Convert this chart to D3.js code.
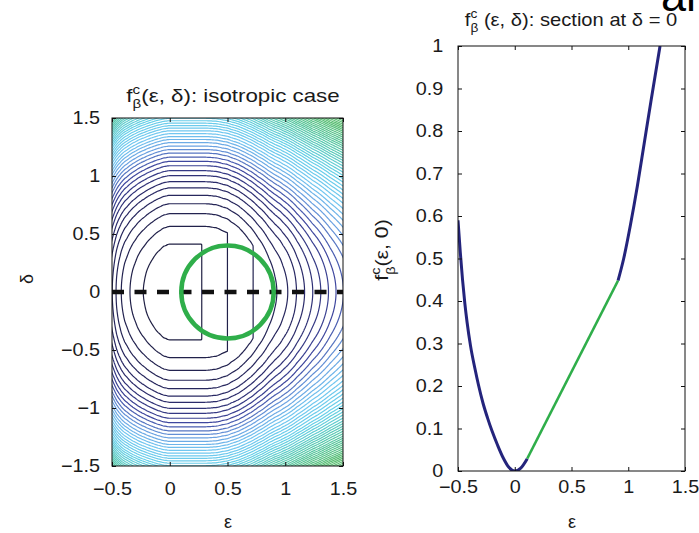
<!DOCTYPE html>
<html>
<head>
<meta charset="utf-8">
<script src="https://cdn.jsdelivr.net/npm/d3@7"></script>
<style>
  body { margin: 0; background: #fff; }
  text { font-family: "Liberation Sans", Arial, sans-serif; fill: #1a1a1a; }
</style>
</head>
<body>
<svg id="fig" width="699" height="533"></svg>
<script>
// ---- data ----

// section f(eps, 0), right panel: blue left branch, green linear part, blue right branch
var blueLeftEps = [-0.5, -0.48, -0.46, -0.44, -0.42, -0.39, -0.35, -0.32, -0.28, -0.24, -0.2, -0.15, -0.1, -0.05, 0, 0.05, 0.11];
var blueLeftF   = [0.59, 0.515, 0.45, 0.395, 0.35, 0.295, 0.24, 0.203, 0.16, 0.125, 0.094, 0.06, 0.03, 0.008, 0, 0.006, 0.029];
var greenEps = [0.11, 0.91];
var greenF   = [0.029, 0.448];
var blueRightEps = [0.91, 0.96, 1.02, 1.08, 1.14, 1.2, 1.28];
var blueRightF   = [0.448, 0.5, 0.58, 0.67, 0.77, 0.87, 1.0];

// contour field, left panel: level along delta = 0 outside the linear zone ...
var ridgeEps = [-0.6, -0.55, -0.5, -0.48, -0.46, -0.44, -0.42, -0.39, -0.35, -0.32, -0.28, -0.24, -0.2, -0.15, -0.1, -0.05, 0, 0.1, 0.2, 0.3, 0.4, 0.5, 0.6, 0.7, 0.8, 0.91, 0.96, 1.02, 1.08, 1.14, 1.2, 1.28, 1.4, 1.5, 1.6];
var ridgeF   = [1.0, 0.78, 0.59, 0.515, 0.45, 0.395, 0.35, 0.295, 0.24, 0.203, 0.16, 0.125, 0.094, 0.06, 0.032, 0.01, 0, 0, 0, 0, 0.008, 0.04, 0.1, 0.19, 0.305, 0.448, 0.5, 0.58, 0.67, 0.77, 0.87, 1.0, 1.21, 1.39, 1.58];
var spreadR = [0, 0.1, 0.2, 0.3, 0.4, 0.5, 0.6, 0.7, 0.8, 0.9, 1.0, 1.1, 1.2, 1.3, 1.4, 1.5, 1.6, 1.7, 1.8, 1.9, 2.0, 2.1, 2.2];
var spreadF = [0, 0.0063, 0.0255, 0.0587, 0.1077, 0.175, 0.264, 0.378, 0.523, 0.703, 0.925, 1.196, 1.522, 1.913, 2.378, 2.925, 3.566, 4.312, 5.174, 6.166, 7.3, 8.59, 10.05];
var levelStep = 0.1165;
var levelCount = 72;

// green circle (eps, delta, radius)
var circleEps = 0.5, circleDelta = 0, circleRadius = 0.4;

// ticks
var epsTicks = [-0.5, 0, 0.5, 1, 1.5];
var deltaTicks = [-1.5, -1, -0.5, 0, 0.5, 1, 1.5];
var sectionTicks = [0, 0.1, 0.2, 0.3, 0.4, 0.5, 0.6, 0.7, 0.8, 0.9, 1];

// ---- layout ----
var svg = d3.select("#fig");
var xL = d3.scaleLinear().domain([-0.5, 1.5]).range([112, 343]);
var yL = d3.scaleLinear().domain([-1.5, 1.5]).range([466, 118]);
var xR = d3.scaleLinear().domain([-0.5, 1.5]).range([458, 685]);
var yR = d3.scaleLinear().domain([0, 1]).range([471, 46]);
var navy = "#24247c", green = "#2fae4a";
var tickFmt = d3.format("~g");

svg.append("rect").attr("width", 699).attr("height", 533).attr("fill", "#fff");

var defs = svg.append("defs");
defs.append("clipPath").attr("id", "clipL").append("rect")
  .attr("x", 112).attr("y", 118).attr("width", 231).attr("height", 348);
defs.append("clipPath").attr("id", "clipR").append("rect")
  .attr("x", 458).attr("y", 46).attr("width", 227).attr("height", 425);

// ---- left panel: contours ----
// field = max(linear part, spread(distance)), distance built from the ridge level
var step = 0.01, e0 = -0.6, d0 = -1.6;
var nx = 221, ny = 321;
var ridge = d3.scaleLinear().domain(ridgeEps).range(ridgeF);
var spread = d3.scaleLinear().domain(spreadR).range(spreadF);
var linear = d3.scaleLinear().domain(greenEps).range(greenF);
var uOf = [];
for (var i = 0; i < nx; i++) {
  uOf.push(spread.invert(ridge(e0 + i * step)));
}
var values = new Float64Array(nx * ny);
for (var j = 0; j < ny; j++) {
  var d = d0 + j * step;
  for (i = 0; i < nx; i++) {
    var e = e0 + i * step, u = uOf[i];
    values[j * nx + i] = Math.max(linear(e), spread(Math.sqrt(u * u + d * d)));
  }
}
var levels = d3.range(1, levelCount + 1).map(function(k) { return k * levelStep; });
var contours = d3.contours().size([nx, ny]).thresholds(levels)(values);

var toPx = d3.geoTransform({
  point: function(px, py) {
    this.stream.point(xL(e0 + (px - 0.5) * step), yL(d0 + (py - 0.5) * step));
  }
});
var path = d3.geoPath(toPx);
var color = d3.scaleLinear()
  .domain([0, 0.8, 1.3, 1.7, 2.2, 3.0, 4.2, 5.5])
  .range(["#1e1e3e", "#2a2a68", "#4048a0", "#6a9ee0", "#72c6f0", "#66d0e8", "#58c8a8", "#5cbf74"])
  .clamp(true);

var gL = svg.append("g").attr("clip-path", "url(#clipL)");
gL.selectAll("path.iso")
  .data(contours)
  .enter().append("path")
  .attr("class", "iso")
  .attr("d", path)
  .attr("fill", "none")
  .attr("stroke", function(c) { return color(c.value); })
  .attr("stroke-width", 1.2);

// dashed section line at delta = 0
gL.append("line")
  .attr("x1", xL(-0.5)).attr("x2", xL(1.5))
  .attr("y1", yL(0)).attr("y2", yL(0))
  .attr("stroke", "#111")
  .attr("stroke-width", 4.5)
  .attr("stroke-dasharray", "12,10.5");

gL.append("ellipse")
  .attr("cx", xL(circleEps)).attr("cy", yL(circleDelta))
  .attr("rx", xL(circleEps + circleRadius) - xL(circleEps))
  .attr("ry", yL(circleDelta) - yL(circleDelta + circleRadius))
  .attr("fill", "none")
  .attr("stroke", green)
  .attr("stroke-width", 4.5);

// ---- right panel: section ----
var gR = svg.append("g").attr("clip-path", "url(#clipR)");
var curve = d3.line()
  .x(function(p) { return xR(p[0]); })
  .y(function(p) { return yR(p[1]); })
  .curve(d3.curveMonotoneX);

gR.append("path")
  .attr("d", curve(d3.zip(blueLeftEps, blueLeftF)))
  .attr("fill", "none").attr("stroke", navy).attr("stroke-width", 3);
gR.append("path")
  .attr("d", curve(d3.zip(blueRightEps, blueRightF)))
  .attr("fill", "none").attr("stroke", navy).attr("stroke-width", 3);
gR.append("path")
  .attr("d", d3.line().x(function(p) { return xR(p[0]); }).y(function(p) { return yR(p[1]); })(d3.zip(greenEps, greenF)))
  .attr("fill", "none").attr("stroke", green).attr("stroke-width", 2.5);

// ---- frames, ticks inside on all four sides ----
function drawFrame(x, y, xTicks, yTicks, xPad, yPad) {
  var x0 = x.range()[0], x1 = x.range()[1], y0 = y.range()[0], y1 = y.range()[1];
  var g = svg.append("g");
  g.append("g").attr("transform", "translate(0," + y0 + ")")
    .call(d3.axisBottom(x).tickValues(xTicks).tickFormat(tickFmt)
      .tickSizeInner(-4).tickSizeOuter(0).tickPadding(xPad));
  g.append("g").attr("transform", "translate(0," + y1 + ")")
    .call(d3.axisTop(x).tickValues(xTicks).tickFormat("").tickSizeInner(-4).tickSizeOuter(0));
  g.append("g").attr("transform", "translate(" + x0 + ",0)")
    .call(d3.axisLeft(y).tickValues(yTicks).tickFormat(tickFmt)
      .tickSizeInner(-4).tickSizeOuter(0).tickPadding(yPad));
  g.append("g").attr("transform", "translate(" + x1 + ",0)")
    .call(d3.axisRight(y).tickValues(yTicks).tickFormat("").tickSizeInner(-4).tickSizeOuter(0));
  g.selectAll(".domain").remove();
  g.selectAll(".tick line").attr("stroke", "#111");
  g.selectAll(".tick text")
    .attr("font-size", 18)
    .attr("font-family", "Liberation Sans, Arial, sans-serif")
    .attr("fill", "#1a1a1a")
    .attr("transform", "scale(1.1,1)");
  g.append("rect")
    .attr("x", x0).attr("y", y1)
    .attr("width", x1 - x0).attr("height", y0 - y1)
    .attr("fill", "none").attr("stroke", "#111").attr("stroke-width", 1);
}
drawFrame(xL, yL, epsTicks, deltaTicks, 16, 10.8);
drawFrame(xR, yR, epsTicks, sectionTicks, 9, 13.5);

// ---- texts ----
function fPart(t, rest, size) {
  t.append("tspan").text("f");
  t.append("tspan").attr("dy", -0.42 * size).attr("font-size", size * 0.68).text("c");
  t.append("tspan").attr("dx", -0.34 * size).attr("dy", 0.78 * size).attr("font-size", size * 0.68).text("β");
  t.append("tspan").attr("dy", -0.36 * size).text(rest);
}

var t1 = svg.append("text")
  .attr("transform", "translate(233,102) scale(1.24,1)")
  .attr("text-anchor", "middle").attr("font-size", 18);
fPart(t1, "(ε, δ): isotropic case", 18);

var t2 = svg.append("text")
  .attr("transform", "translate(571,26) scale(1.12,1)")
  .attr("text-anchor", "middle").attr("font-size", 18);
fPart(t2, " (ε, δ): section at δ = 0", 18);

var t3 = svg.append("text")
  .attr("transform", "translate(388,250) rotate(-90) scale(1.12,1)")
  .attr("text-anchor", "middle").attr("font-size", 19);
fPart(t3, "(ε, 0)", 19);

svg.append("text")
  .attr("transform", "translate(33,279) rotate(-90)")
  .attr("text-anchor", "middle").attr("font-size", 18)
  .text("δ");

svg.append("text")
  .attr("x", 228).attr("y", 528)
  .attr("text-anchor", "middle").attr("font-size", 18)
  .text("ε");
svg.append("text")
  .attr("x", 572).attr("y", 528)
  .attr("text-anchor", "middle").attr("font-size", 18)
  .text("ε");

// fragment of the caption above, cut by the page edge
svg.append("text")
  .attr("x", 661).attr("y", 11)
  .attr("font-size", 45)
  .style("fill", "#000")
  .text("al");
</script>
</body>
</html>
